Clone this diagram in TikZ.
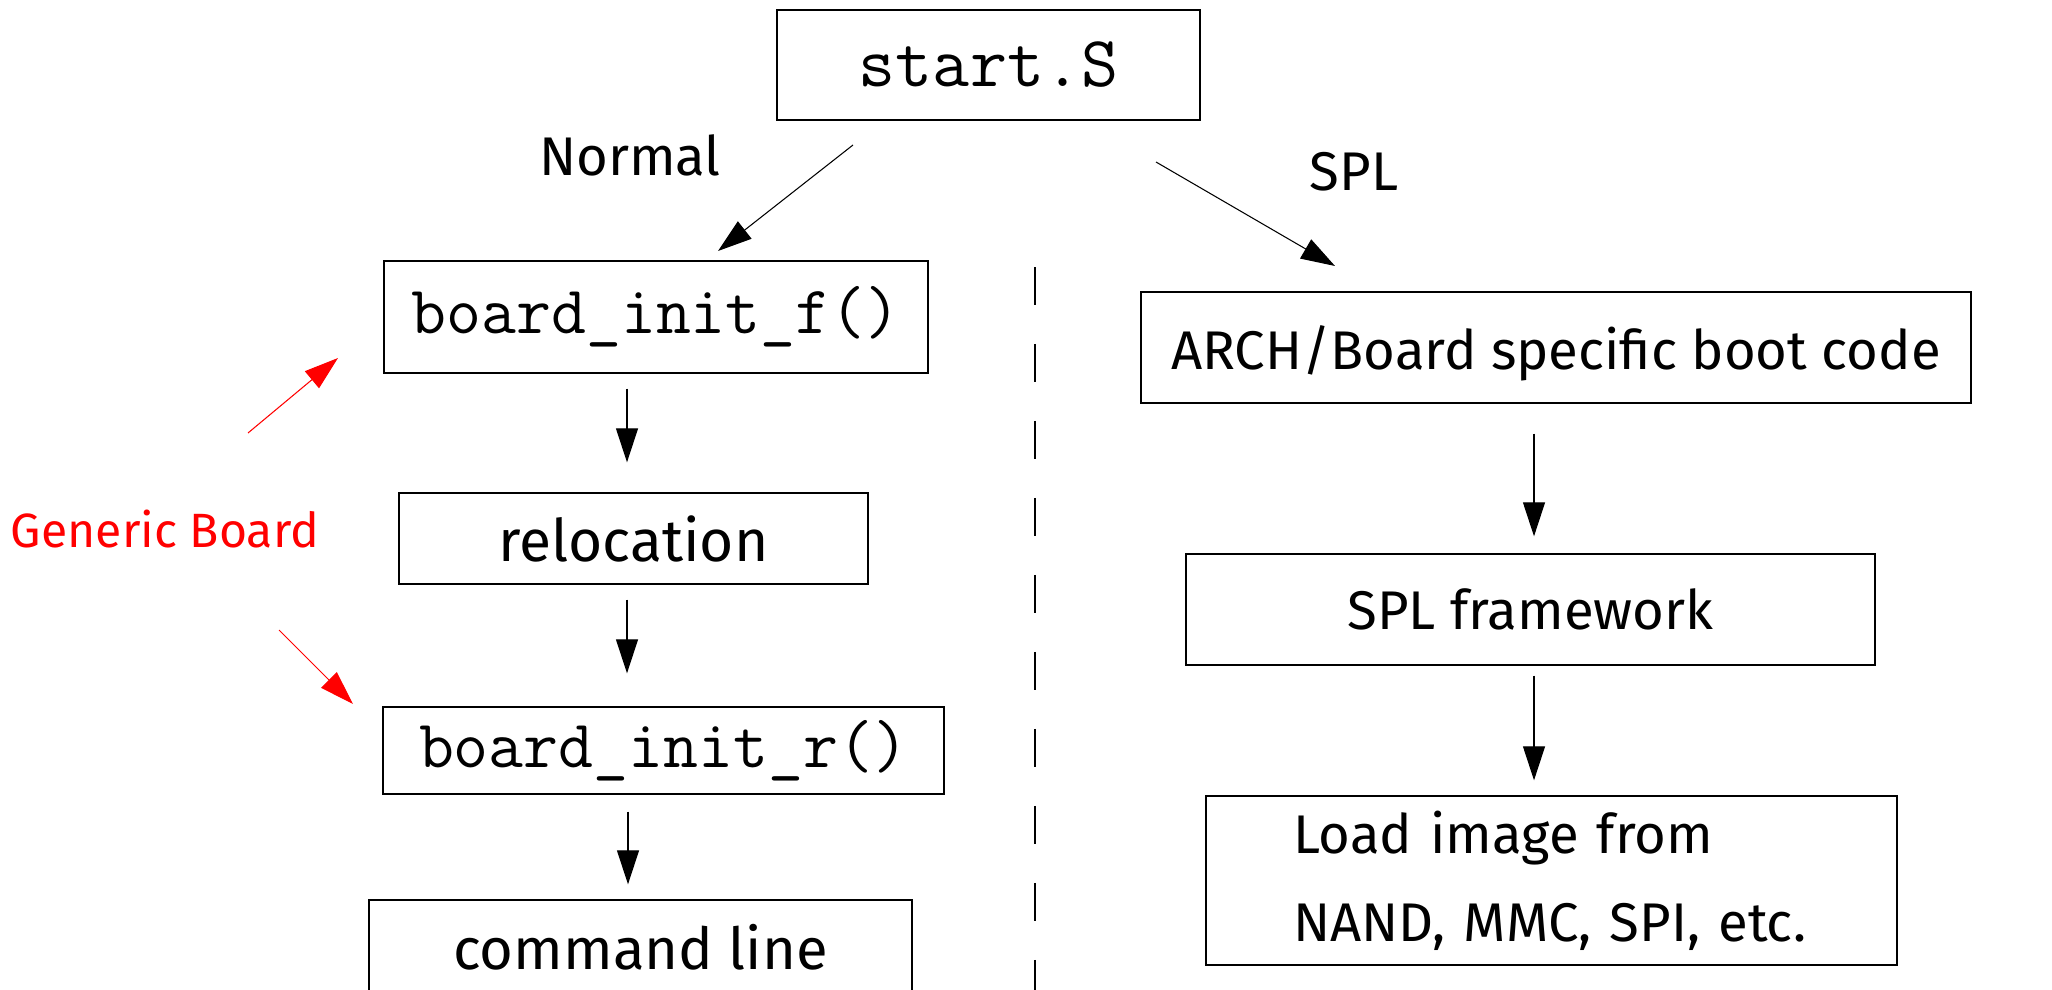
\documentclass[tikz,border=0pt]{standalone}
\usepackage{fontspec}
\setmainfont{Fira Sans}
\usetikzlibrary{arrows.meta}

\begin{document}
\begin{tikzpicture}[x=0.02cm, y=-0.02cm,
		box/.style={draw, line width=0.8pt, inner sep=0pt, font=\fontsize{31}{37}\selectfont},
		code/.style={box, font=\ttfamily\fontsize{38.6}{44}\selectfont},
		arr/.style={line width=0.6pt, -{Triangle[length=0.68cm,width=0.44cm]}},
		redarr/.style={arr, red},
		lbl/.style={font=\fontsize{31}{37}\selectfont, anchor=base}]
	\useasboundingbox (0,0) rectangle (2052,990);
	\clip (0,0) rectangle (2052,990);
	% left column
	\node[code, minimum width=8.46cm, minimum height=2.2cm, font=\ttfamily\fontsize{40.9}{46}\selectfont] (start) at (988.5,65) {start.S};
	\node[code, minimum width=10.88cm, minimum height=2.24cm] (binitf) at (656,317) {board\_init\_f()};
	\node[box, minimum width=9.38cm, minimum height=1.82cm, font=\fontsize{33.4}{40}\selectfont] (reloc) at (633.5,538.5) {relocation};
	\node[code, minimum width=11.22cm, minimum height=1.74cm] (binitr) at (663.5,750.5) {board\_init\_r()};
	\node[box, minimum width=10.86cm, minimum height=1.88cm, font=\fontsize{33}{40}\selectfont] (cmdline) at (640.5,947) {command line};
	% right column
	\node[box, minimum width=16.6cm, minimum height=2.22cm, text depth=0pt] (arch) at (1556,347.5) {ARCH/Board specific boot code};
	\node[box, minimum width=13.78cm, minimum height=2.22cm] (splfw) at (1530.5,609.5) {SPL framework};
	\node[box, inner xsep=1.74cm, text width=10.34cm, align=left, minimum height=3.38cm,
		font=\fontsize{31}{50}\selectfont] (load) at (1551.5,880.5) {Load image from\\NAND, MMC, SPI, etc.};
	% labels
	\node[lbl] (normal) at (630,175) {Normal};
	\node[lbl] (spl) at (1354,191) {SPL};
	\node[lbl, red, font=\fontsize{27.4}{32}\selectfont] (genb) at (165,547) {Generic Board};
	\coordinate (nfrom) at (853,145);
	\coordinate (nto) at (718,251);
	\coordinate (sfrom) at (1156,162);
	\coordinate (sto) at (1335,266);
	\coordinate (gfrom) at (248,433);
	\coordinate (gto) at (338,358);
	\coordinate (hfrom) at (279,630);
	\coordinate (hto) at (353,704);
	\draw[arr] (nfrom) -- (nto);
	\draw[arr] (sfrom) -- (sto);
	\draw[redarr] (gfrom) -- (gto);
	\draw[redarr] (hfrom) -- (hto);
	\draw[arr, shorten <=0.3cm, shorten >=0.6cm] (binitf.south -| 627,0) -- (reloc.north -| 627,0);
	\draw[arr, shorten <=0.3cm, shorten >=0.66cm] (reloc.south -| 627,0) -- (binitr.north -| 627,0);
	\draw[arr, shorten <=0.34cm, shorten >=0.3cm] (binitr.south -| 628,0) -- (cmdline.north -| 628,0);
	\draw[arr, shorten <=0.6cm, shorten >=0.34cm] (arch.south -| 1534,0) -- (splfw.north -| 1534,0);
	\draw[arr, shorten <=0.2cm, shorten >=0.3cm] (splfw.south -| 1534,0) -- (load.north -| 1534,0);
	% divider
	\draw[line width=0.85pt, dash pattern=on 0.76cm off 0.78cm] (1035,267) -- (1035,1000);
\end{tikzpicture}
\end{document}
